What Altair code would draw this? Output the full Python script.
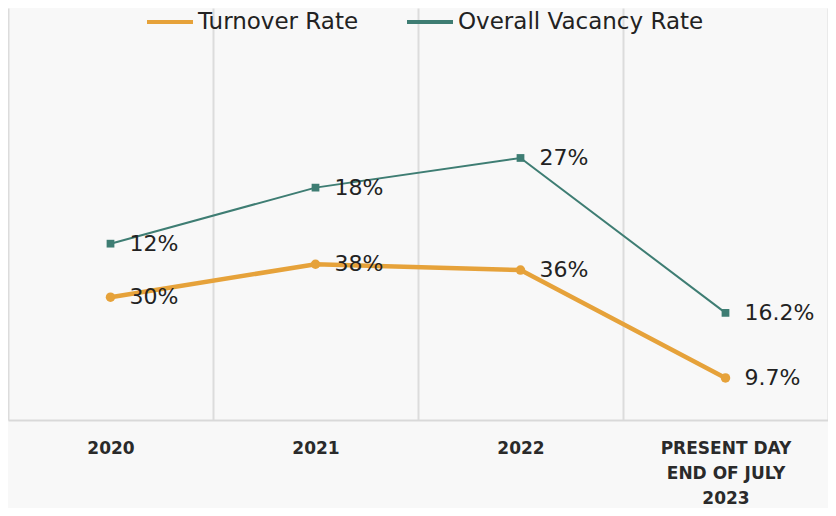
import altair as alt
import pandas as pd

categories = ["2020", "2021", "2022", "PRESENT DAY|END OF JULY|2023"]
series = ["Turnover Rate", "Overall Vacancy Rate"]
turnover_labels = ["30%", "38%", "36%", "9.7%"]
vacancy_labels = ["12%", "18%", "27%", "16.2%"]
# plotted heights (hidden axis)
turnover_level = [14.9, 18.9, 18.2, 5.1]
vacancy_level = [21.4, 28.2, 31.8, 13.0]

rows = []
for c, v, l in zip(categories, turnover_level, turnover_labels):
    rows.append({"cat": c, "series": series[0], "style": "a", "level": v, "label": l})
for c, v, l in zip(categories, vacancy_level, vacancy_labels):
    rows.append({"cat": c, "series": series[1], "style": "b", "level": v, "label": l})
df = pd.DataFrame(rows)

FONT = "DejaVu Sans"
colors = ["#E6A23A", "#3E7D73"]

base = alt.Chart(df).encode(
    x=alt.X(
        "cat:N",
        sort=categories,
        scale=alt.Scale(paddingInner=0, paddingOuter=0),
        axis=alt.Axis(
            title=None,
            labelAngle=0,
            ticks=False,
            tickBand="extent",
            domain=True,
            domainColor="#d9d9d9",
            domainWidth=2,
            grid=True,
            gridColor="#dcdcdc",
            gridWidth=2,
            labelExpr="split(datum.label, '|')",
            labelFont=FONT,
            labelFontSize=17,
            labelFontWeight="bold",
            labelColor="#2a2a2a",
            labelPadding=20,
            labelLineHeight=25,
            labelBaseline="top",
        ),
    ),
    y=alt.Y("level:Q", scale=alt.Scale(domain=[0, 50]), axis=None),
)

color_scale = alt.Scale(domain=series, range=colors)

lines = base.mark_line().encode(
    color=alt.Color(
        "series:N",
        sort=series,
        scale=color_scale,
        legend=alt.Legend(
            title=None,
            orient="none",
            legendX=137,
            legendY=-11,
            direction="horizontal",
            symbolType="stroke",
            symbolStrokeWidth=4,
            symbolSize=2116,
            labelFont=FONT,
            labelFontSize=23,
            labelColor="#222222",
            labelLimit=0,
            columnPadding=40,
            labelOffset=3,
        ),
    ),
    strokeWidth=alt.StrokeWidth(
        "style:N", scale=alt.Scale(domain=["a", "b"], range=[4.5, 2]), legend=None
    ),
)

points = base.mark_point(filled=True, opacity=1).encode(
    color=alt.Color("style:N", scale=alt.Scale(domain=["a", "b"], range=colors), legend=None),
    shape=alt.Shape(
        "style:N", scale=alt.Scale(domain=["a", "b"], range=["circle", "square"]), legend=None
    ),
    size=alt.Size(
        "style:N", scale=alt.Scale(domain=["a", "b"], range=[90, 60]), legend=None
    ),
)

text = base.mark_text(
    align="left", baseline="middle", dx=19, fontSize=22, font=FONT, color="#222222"
).encode(text="label:N")

chart = (
    alt.layer(lines, points, text)
    .properties(
        width=820,
        height=412,
        background="#f8f8f8",
        padding={"left": 0, "top": 0, "right": 0, "bottom": 88},
        autosize=alt.AutoSizeParams(type="none"),
    )
    .resolve_scale(color="independent")
    .configure_view(stroke=None)
)

chart.save("out.html", embed_options={"renderer": "svg", "actions": False})
